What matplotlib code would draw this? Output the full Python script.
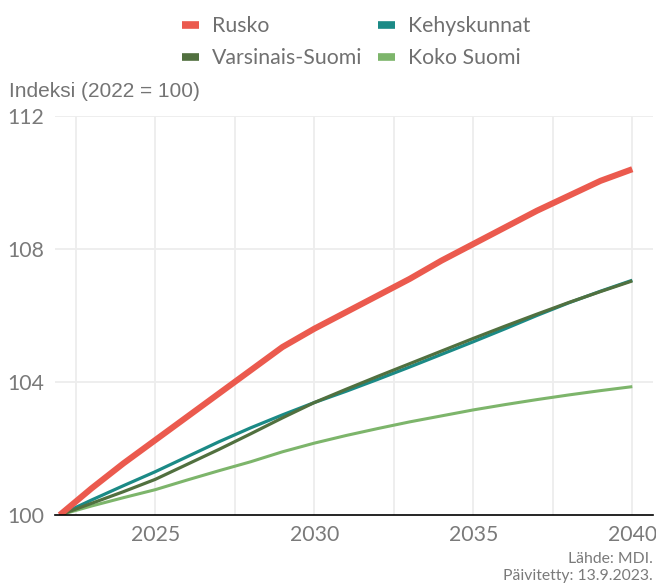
import matplotlib
matplotlib.use("Agg")
import matplotlib.pyplot as plt
from matplotlib.lines import Line2D

years = list(range(2022, 2041))

rusko = [100.0, 100.8, 101.55, 102.25, 102.95, 103.65, 104.35, 105.05, 105.6,
         106.1, 106.6, 107.1, 107.65, 108.15, 108.65, 109.15, 109.6, 110.05, 110.4]
kehyskunnat = [100.0, 100.45, 100.88, 101.3, 101.75, 102.2, 102.62, 103.01, 103.38,
               103.72, 104.08, 104.45, 104.83, 105.21, 105.6, 106.0, 106.38, 106.73, 107.06]
varsinais_suomi = [100.0, 100.35, 100.7, 101.07, 101.52, 101.97, 102.44, 102.92, 103.38,
                   103.78, 104.17, 104.55, 104.93, 105.31, 105.68, 106.04, 106.39, 106.72, 107.04]
koko_suomi = [100.0, 100.27, 100.52, 100.76, 101.05, 101.33, 101.6, 101.9, 102.16,
              102.39, 102.6, 102.8, 102.98, 103.16, 103.32, 103.47, 103.61, 103.74, 103.86]

series_names = ["Rusko", "Kehyskunnat", "Varsinais-Suomi", "Koko Suomi"]
colors = {
    "Rusko": "#EB5A4E",
    "Kehyskunnat": "#1B8A86",
    "Varsinais-Suomi": "#51703F",
    "Koko Suomi": "#7DB56B",
}
widths = {"Rusko": 4.4, "Kehyskunnat": 2.3, "Varsinais-Suomi": 2.3, "Koko Suomi": 2.2}

y_ticks = [100, 104, 108, 112]
x_ticks = [2025, 2030, 2035, 2040]
x_grid = [2022.5 + 2.5 * i for i in range(8)]

tick_color = "#7a7a7a"
grid_color = "#EDEDED"

fig = plt.figure(figsize=(6.56, 5.85), dpi=100)
ax = fig.add_axes([0.0838, 0.1197, 0.9116, 0.682])

# grid first so the lines sit on top
for gx in x_grid:
    ax.axvline(gx, color=grid_color, lw=1.3, zorder=0)
for gy in y_ticks[1:]:
    ax.axhline(gy, color=grid_color, lw=1.3, zorder=0)

data = {
    "Rusko": rusko,
    "Kehyskunnat": kehyskunnat,
    "Varsinais-Suomi": varsinais_suomi,
    "Koko Suomi": koko_suomi,
}
# draw order: thin lines under the thick one
for name in ["Koko Suomi", "Kehyskunnat", "Varsinais-Suomi", "Rusko"]:
    ax.plot(years, data[name], color=colors[name], lw=widths[name],
            solid_capstyle="butt", solid_joinstyle="round", zorder=3)

ax.set_xlim(2021.85, 2040.65)
ax.set_ylim(100, 112)
ax.set_xticks(x_ticks)
ax.set_yticks(y_ticks)
ax.tick_params(length=0, labelsize=15.3, colors=tick_color)
ax.tick_params(axis="x", pad=7)
ax.tick_params(axis="y", pad=8)
for lbl in ax.get_xticklabels() + ax.get_yticklabels():
    lbl.set_family("Lato")

for side in ["top", "right", "left"]:
    ax.spines[side].set_visible(False)
ax.spines["bottom"].set_color("black")
ax.spines["bottom"].set_linewidth(1.2)
ax.spines["bottom"].set_zorder(4)

fig.text(0.014, 0.844, "Indeksi (2022 = 100)", fontsize=15, color="#747474",
         family="Liberation Sans", va="center", ha="left")

# legend is filled column by column, so interleave to get row order
order = ["Rusko", "Varsinais-Suomi", "Kehyskunnat", "Koko Suomi"]
handles = [Line2D([0], [0], color=colors[n], lw=5.5, solid_capstyle="butt") for n in order]
fig.legend(handles, order, ncol=2, loc="center", bbox_to_anchor=(0.543, 0.928),
           frameon=False, handlelength=0.8, handletextpad=0.6, columnspacing=0.75,
           labelspacing=0.55, prop={"family": "Lato", "size": 15.3},
           labelcolor="#707070")

fig.text(0.995, 0.044, "Lähde: MDI.", fontsize=11.3, color="#7a7a7a",
         family="Lato", ha="right", va="center")
fig.text(0.995, 0.015, "Päivitetty: 13.9.2023.", fontsize=11.3, color="#7a7a7a",
         family="Lato", ha="right", va="center")

fig.savefig("out.png", dpi=100)
